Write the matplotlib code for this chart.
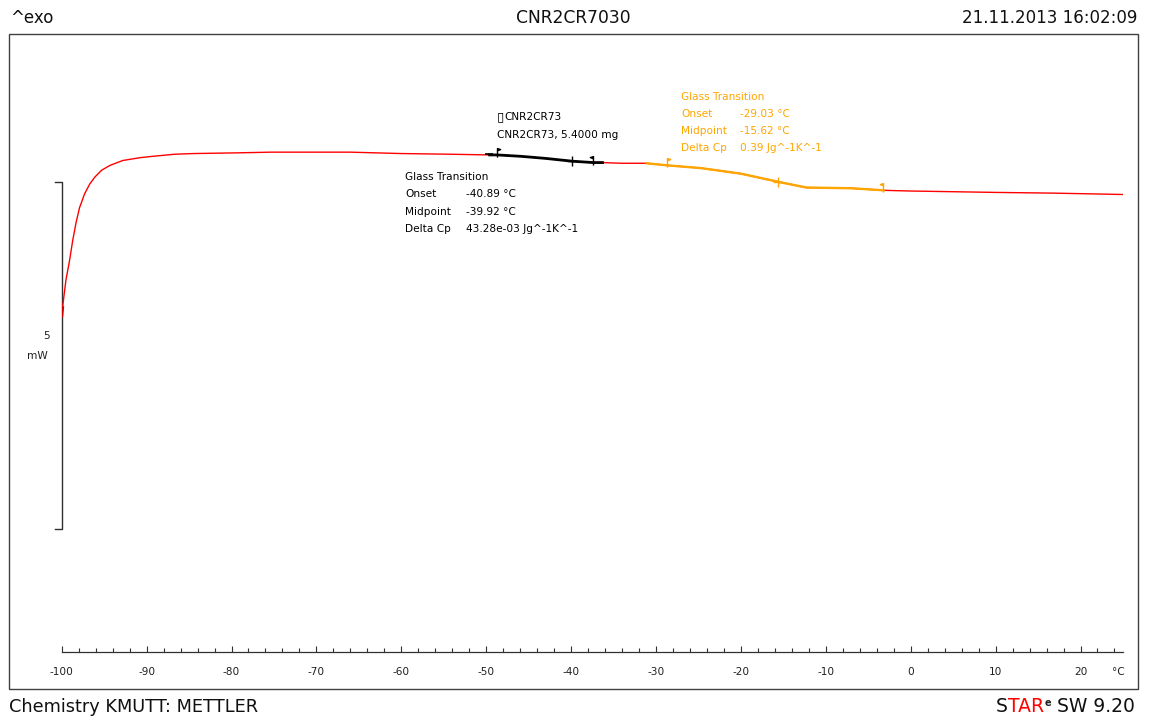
import numpy as np
import matplotlib
matplotlib.use("Agg")
import matplotlib.pyplot as plt
from matplotlib.patches import Rectangle
from matplotlib.path import Path

# ---------------- data ----------------
temp_c = [-100.0, -99.9, -99.5, -99.1, -98.7, -98.3, -97.9, -97.3, -96.7, -96.1,
          -95.3, -94.3, -92.8, -90.8, -89.3, -86.7, -84.5, -79.3, -75.4, -71.9,
          -66.0, -60.0, -54.2, -49.6, -48.7, -45.9, -43.0, -39.9, -37.4, -36.3,
          -34.1, -31.1, -28.7, -24.7, -20.0, -15.5, -12.3, -7.0, -3.2, 0.0,
          5.0, 10.0, 16.6, 25.0]
heat_flow_mw = [-1.93, -1.81, -1.41, -1.15, -0.84, -0.58, -0.37, -0.17, -0.03, 0.07,
                0.17, 0.24, 0.31, 0.35, 0.37, 0.40, 0.41, 0.42, 0.43, 0.43,
                0.43, 0.41, 0.40, 0.39, 0.39, 0.37, 0.34, 0.30, 0.28, 0.28,
                0.27, 0.27, 0.24, 0.20, 0.12, 0.00, -0.08, -0.09, -0.12, -0.13,
                -0.14, -0.15, -0.16, -0.18]

black_range = (-49.6, -36.3)
orange_range = (-31.1, -3.2)
black_limits = [-48.73, -37.42]
black_mid = -39.92
orange_limits = [-28.74, -3.23]
orange_mid = -15.62

black_labels = ["Glass Transition", "Onset", "Midpoint", "Delta Cp"]
black_values = ["", "-40.89 °C", "-39.92 °C", "43.28e-03 Jg^-1K^-1"]
orange_labels = ["Glass Transition", "Onset", "Midpoint", "Delta Cp"]
orange_values = ["", "-29.03 °C", "-15.62 °C", "0.39 Jg^-1K^-1"]

x_ticks = list(range(-100, 21, 10))
x_tick_labels = [str(v) for v in x_ticks]

# ---------------- figure ----------------
W, H = 1150, 724
fig = plt.figure(figsize=(W / 100, H / 100), dpi=100)
fig.patch.set_facecolor("white")

def fx(px):
    return px / W

def fy(py):
    return 1 - py / H

ax_left, ax_right, ax_bottom, ax_top = 61.7, 1123.0, 652.0, 34.3
ax = fig.add_axes([fx(ax_left), fy(ax_bottom), fx(ax_right) - fx(ax_left), fy(ax_top) - fy(ax_bottom)])
px_per_c = 8.49
px_per_mw = 69.4
ax.set_xlim(-100, -100 + (ax_right - ax_left) / px_per_c)
ax.set_ylim((182 - ax_bottom) / px_per_mw, (182 - ax_top) / px_per_mw)
ax.patch.set_alpha(0)
for s in ["top", "right", "left"]:
    ax.spines[s].set_visible(False)
ax.spines["bottom"].set_color("#303030")
ax.spines["bottom"].set_linewidth(0.9)
ax.set_yticks([])
ax.set_xticks(x_ticks)
ax.set_xticklabels(x_tick_labels)
ax.set_xticks(np.arange(-100, 25, 2), minor=True)
ax.tick_params(axis="x", which="major", direction="in", length=4.5, width=0.8,
               color="#303030", pad=10.5, labelsize=7.6, labelcolor="#202020")
ax.tick_params(axis="x", which="minor", direction="in", length=3, width=0.8, color="#303030")
ax.text(24.4, (182 - 672) / px_per_mw, "°C", fontsize=7.6, ha="center", va="center", color="#202020")

t = np.array(temp_c)
h = np.array(heat_flow_mw)

# main curve
ax.plot(t, h, color="#ff0000", lw=1.0, zorder=3)
ax.plot(t[:2], h[:2], color="#d00000", lw=2.2, zorder=3)

# black evaluation segment
mb = (t >= black_range[0]) & (t <= black_range[1])
ax.plot(t[mb], h[mb], color="black", lw=2.0, zorder=4)
# orange evaluation segment
mo = (t >= orange_range[0]) & (t <= orange_range[1])
ax.plot(t[mo], h[mo], color="#ffa500", lw=1.7, zorder=4)

# flag markers
flag_r = Path([(0, -0.3), (0, 1.0), (0.45, 0.85), (0, 0.68)],
              [Path.MOVETO, Path.LINETO, Path.LINETO, Path.LINETO])
flag_l = Path([(0, -0.3), (0, 1.0), (-0.45, 0.85), (0, 0.68)],
              [Path.MOVETO, Path.LINETO, Path.LINETO, Path.LINETO])

def on_curve(x):
    return float(np.interp(x, t, h))

for xs, col in [(black_limits, "black"), (orange_limits, "#ffa500")]:
    ax.plot([xs[0]], [on_curve(xs[0])], marker=flag_r, ms=10, color=col,
            mec=col, mfc=col, mew=1.0, zorder=5, ls="none")
    ax.plot([xs[1]], [on_curve(xs[1])], marker=flag_l, ms=10, color=col,
            mec=col, mfc=col, mew=1.0, zorder=5, ls="none")
ax.plot([black_mid], [on_curve(black_mid)], marker="+", ms=7, mew=1.0, color="black", zorder=5)
ax.plot([orange_mid], [on_curve(orange_mid)], marker="+", ms=7, mew=1.0, color="#ffa500", zorder=5)
ax.plot([black_range[0] - 0.1], [on_curve(black_range[0]) + 0.015], marker="_", ms=6, mew=1.2,
        color="black", zorder=5)

# annotation texts
def py2mw(py):
    return (182 - py) / px_per_mw

def px2c(px):
    return (px - 61.7) / px_per_c - 100

fs_ann = 7.6
ax.text(px2c(497), py2mw(117), "\u25AF", fontsize=9.5, va="center", ha="left", color="black")
ax.text(px2c(504), py2mw(117), "CNR2CR73", fontsize=fs_ann, va="center", ha="left", color="black")
ax.text(px2c(497), py2mw(135), "CNR2CR73, 5.4000 mg", fontsize=fs_ann, va="center", ha="left", color="black")

for i, (lab, val) in enumerate(zip(black_labels, black_values)):
    yy = py2mw(177 + i * 17.4)
    ax.text(px2c(405), yy, lab, fontsize=fs_ann, va="center", ha="left", color="black")
    if val:
        ax.text(px2c(466), yy, val, fontsize=fs_ann, va="center", ha="left", color="black")

for i, (lab, val) in enumerate(zip(orange_labels, orange_values)):
    yy = py2mw(97 + i * 17.0)
    ax.text(px2c(681), yy, lab, fontsize=fs_ann, va="center", ha="left", color="#ffa500")
    if val:
        ax.text(px2c(740), yy, val, fontsize=fs_ann, va="center", ha="left", color="#ffa500")

# scale bar (5 mW)
bar_top, bar_bot = 0.0, -5.0
tk = 7 / px_per_c
ax.plot([-100 - tk, -100, -100, -100 - tk], [bar_top, bar_top, bar_bot, bar_bot],
        color="#303030", lw=1.0, clip_on=False, zorder=2)
ax.text(px2c(50), py2mw(336), "5", fontsize=fs_ann, ha="right", va="center", color="#202020")
ax.text(px2c(48), py2mw(356), "mW", fontsize=fs_ann, ha="right", va="center", color="#202020")

# outer frame
fig.add_artist(Rectangle((fx(9.3), fy(689)), fx(1137.7) - fx(9.3), fy(34.3) - fy(689),
                         transform=fig.transFigure, fill=False, ec="#404040", lw=1.0))

# header
fig.text(fx(10), fy(18), "^exo", fontsize=12, ha="left", va="center", color="#101010")
fig.text(fx(573), fy(18), "CNR2CR7030", fontsize=12.3, ha="center", va="center", color="#101010")
fig.text(fx(1137), fy(18), "21.11.2013 16:02:09", fontsize=12.0, ha="right", va="center", color="#101010")

# footer
fig.text(fx(9), fy(707), "Chemistry KMUTT: METTLER", fontsize=12.8, ha="left", va="center", color="#101010")
t_s = fig.text(fx(996), fy(707), "S", fontsize=13.5, ha="left", va="center", color="#101010")
a_tar = ax.annotate("TAR", xy=(1, 0), xycoords=t_s, ha="left", va="bottom", fontsize=13.5, color="#ff0000")
a_e = ax.annotate("e", xy=(1, 1), xycoords=a_tar, xytext=(0.5, 0), textcoords="offset points",
                  ha="left", va="top", fontsize=7, fontweight="bold", color="#202020")
ax.annotate(" SW 9.20", xy=(1, 0), xycoords=(a_e, a_tar), xytext=(0, 0), textcoords="offset points",
            ha="left", va="bottom", fontsize=13.5, color="#101010")

fig.savefig("out.png", dpi=100, facecolor="white")
